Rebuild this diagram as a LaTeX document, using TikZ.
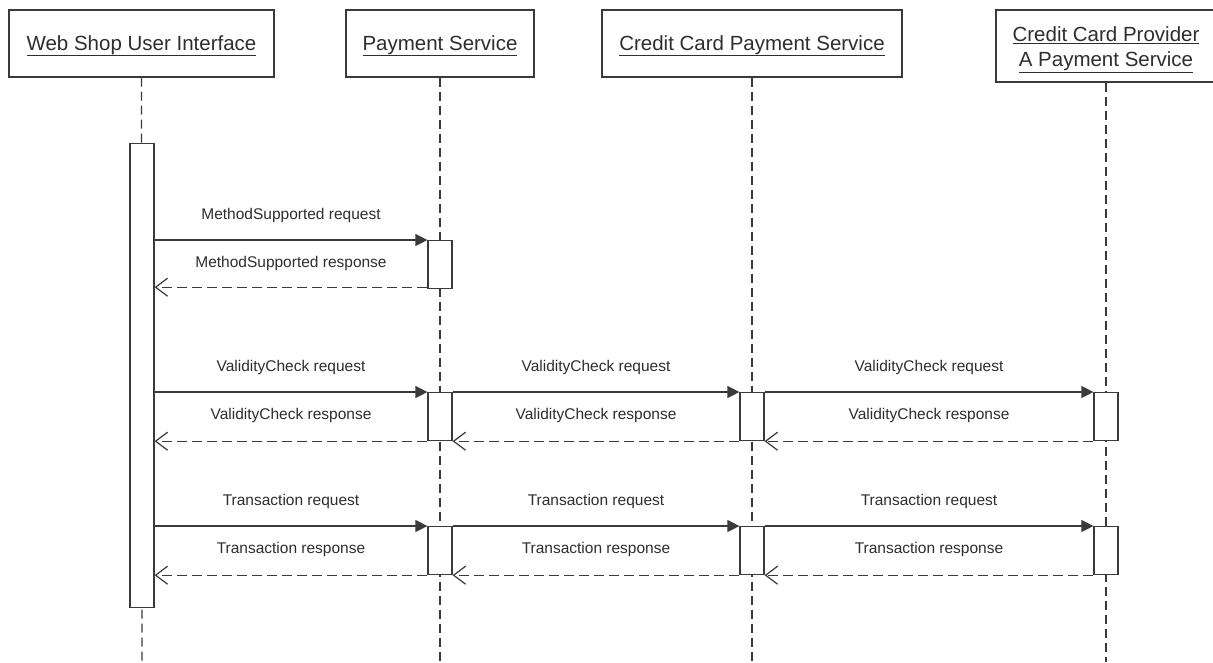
\documentclass[tikz,border=0pt]{standalone}
\usepackage{fontspec}
\setmainfont{Liberation Sans}
\usetikzlibrary{arrows.meta}
\definecolor{linec}{HTML}{3A3A3A}
\definecolor{textc}{HTML}{2E2E2E}
\begin{document}
\begin{tikzpicture}[x=1pt,y=-1pt,
  head/.style={draw=linec,line width=1.2pt,fill=white,text=textc,
    font=\fontsize{20.5}{25}\selectfont,align=center,inner sep=0pt},
  act/.style={draw=linec,line width=1.2pt,fill=white,minimum width=24pt,
    inner sep=0pt,anchor=north},
  life/.style={draw=linec,line width=1.2pt,dash pattern=on 9pt off 5pt},
  req/.style={draw=linec,line width=1.2pt,-{Triangle[length=12pt,width=12pt]}},
  resp/.style={draw=linec,line width=1.2pt,dash pattern=on 10pt off 5pt,
    -{Straight Barb[length=12pt,width=18pt,line width=1.2pt]}},
  lbl/.style={text=textc,font=\fontsize{15.5}{18}\selectfont,inner sep=0pt},
  up/.style={midway,yshift=25pt},
  upr/.style={midway,yshift=26pt}]

\useasboundingbox (0,0) rectangle (1213,662);
\clip (0,0) rectangle (1213,662);
\fill[white] (0,0) rectangle (1213,662);

% headers
\node[head,minimum width=265pt,minimum height=67pt,text height=18pt,text depth=5pt] (h1) at (141.5,43.5) {\underline{Web Shop User Interface}};
\node[head,minimum width=188pt,minimum height=67pt,text height=18pt,text depth=5pt] (h2) at (440,43.5) {\underline{Payment Service}};
\node[head,minimum width=300pt,minimum height=67pt,text height=18pt,text depth=5pt] (h3) at (752,43.5) {\underline{Credit Card Payment Service}};
\node[head,minimum width=220pt,minimum height=72pt] (h4) at (1106,46)
  {\raisebox{-3pt}[\height][\depth]{\begin{tabular}{@{}c@{}}\underline{Credit Card Provider}\\\underline{A Payment Service}\end{tabular}}};

% lifeline ends
\coordinate (e1) at (142,662);
\coordinate (e2) at (440,662);
\coordinate (e3) at (752,662);
\coordinate (e4) at (1106,662);
\draw[life] (h1.south) -- (e1);
\draw[life] (h2.south) -- (e2);
\draw[life] (h3.south) -- (e3);
\draw[life] (h4.south) -- (e4);

% activations
\node[act,minimum height=464pt] (a1) at (142,143) {};
\node[act,minimum height=48pt] (b1) at (440,240) {};
\node[act,minimum height=48pt] (b2) at (440,392) {};
\node[act,minimum height=48pt] (c2) at (752,392) {};
\node[act,minimum height=48pt] (d2) at (1106,392) {};
\node[act,minimum height=48pt] (b3) at (440,526) {};
\node[act,minimum height=48pt] (c3) at (752,526) {};
\node[act,minimum height=48pt] (d3) at (1106,526) {};

% MethodSupported
\draw[req] (a1.east |- b1.north) -- (b1.north west) node[lbl,up] {MethodSupported request};
\coordinate (m1) at ([yshift=2pt]b1.south west);
\draw[resp] (m1) -- (a1.east |- m1) node[lbl,midway,yshift=24pt] {MethodSupported response};

% ValidityCheck
\draw[req] (a1.east |- b2.north) -- (b2.north west) node[lbl,up] {ValidityCheck request};
\draw[req] (b2.north east) -- (c2.north west) node[lbl,up] {ValidityCheck request};
\draw[req] (c2.north east) -- (d2.north west) node[lbl,up] {ValidityCheck request};
\draw[resp] (d2.south west) -- (c2.south east) node[lbl,upr] {ValidityCheck response};
\draw[resp] (c2.south west) -- (b2.south east) node[lbl,upr] {ValidityCheck response};
\draw[resp] (b2.south west) -- (a1.east |- b2.south) node[lbl,upr] {ValidityCheck response};

% Transaction
\draw[req] (a1.east |- b3.north) -- (b3.north west) node[lbl,up] {Transaction request};
\draw[req] (b3.north east) -- (c3.north west) node[lbl,up] {Transaction request};
\draw[req] (c3.north east) -- (d3.north west) node[lbl,up] {Transaction request};
\draw[resp] (d3.south west) -- (c3.south east) node[lbl,upr] {Transaction response};
\draw[resp] (c3.south west) -- (b3.south east) node[lbl,upr] {Transaction response};
\draw[resp] (b3.south west) -- (a1.east |- b3.south) node[lbl,upr] {Transaction response};
\end{tikzpicture}
\end{document}
